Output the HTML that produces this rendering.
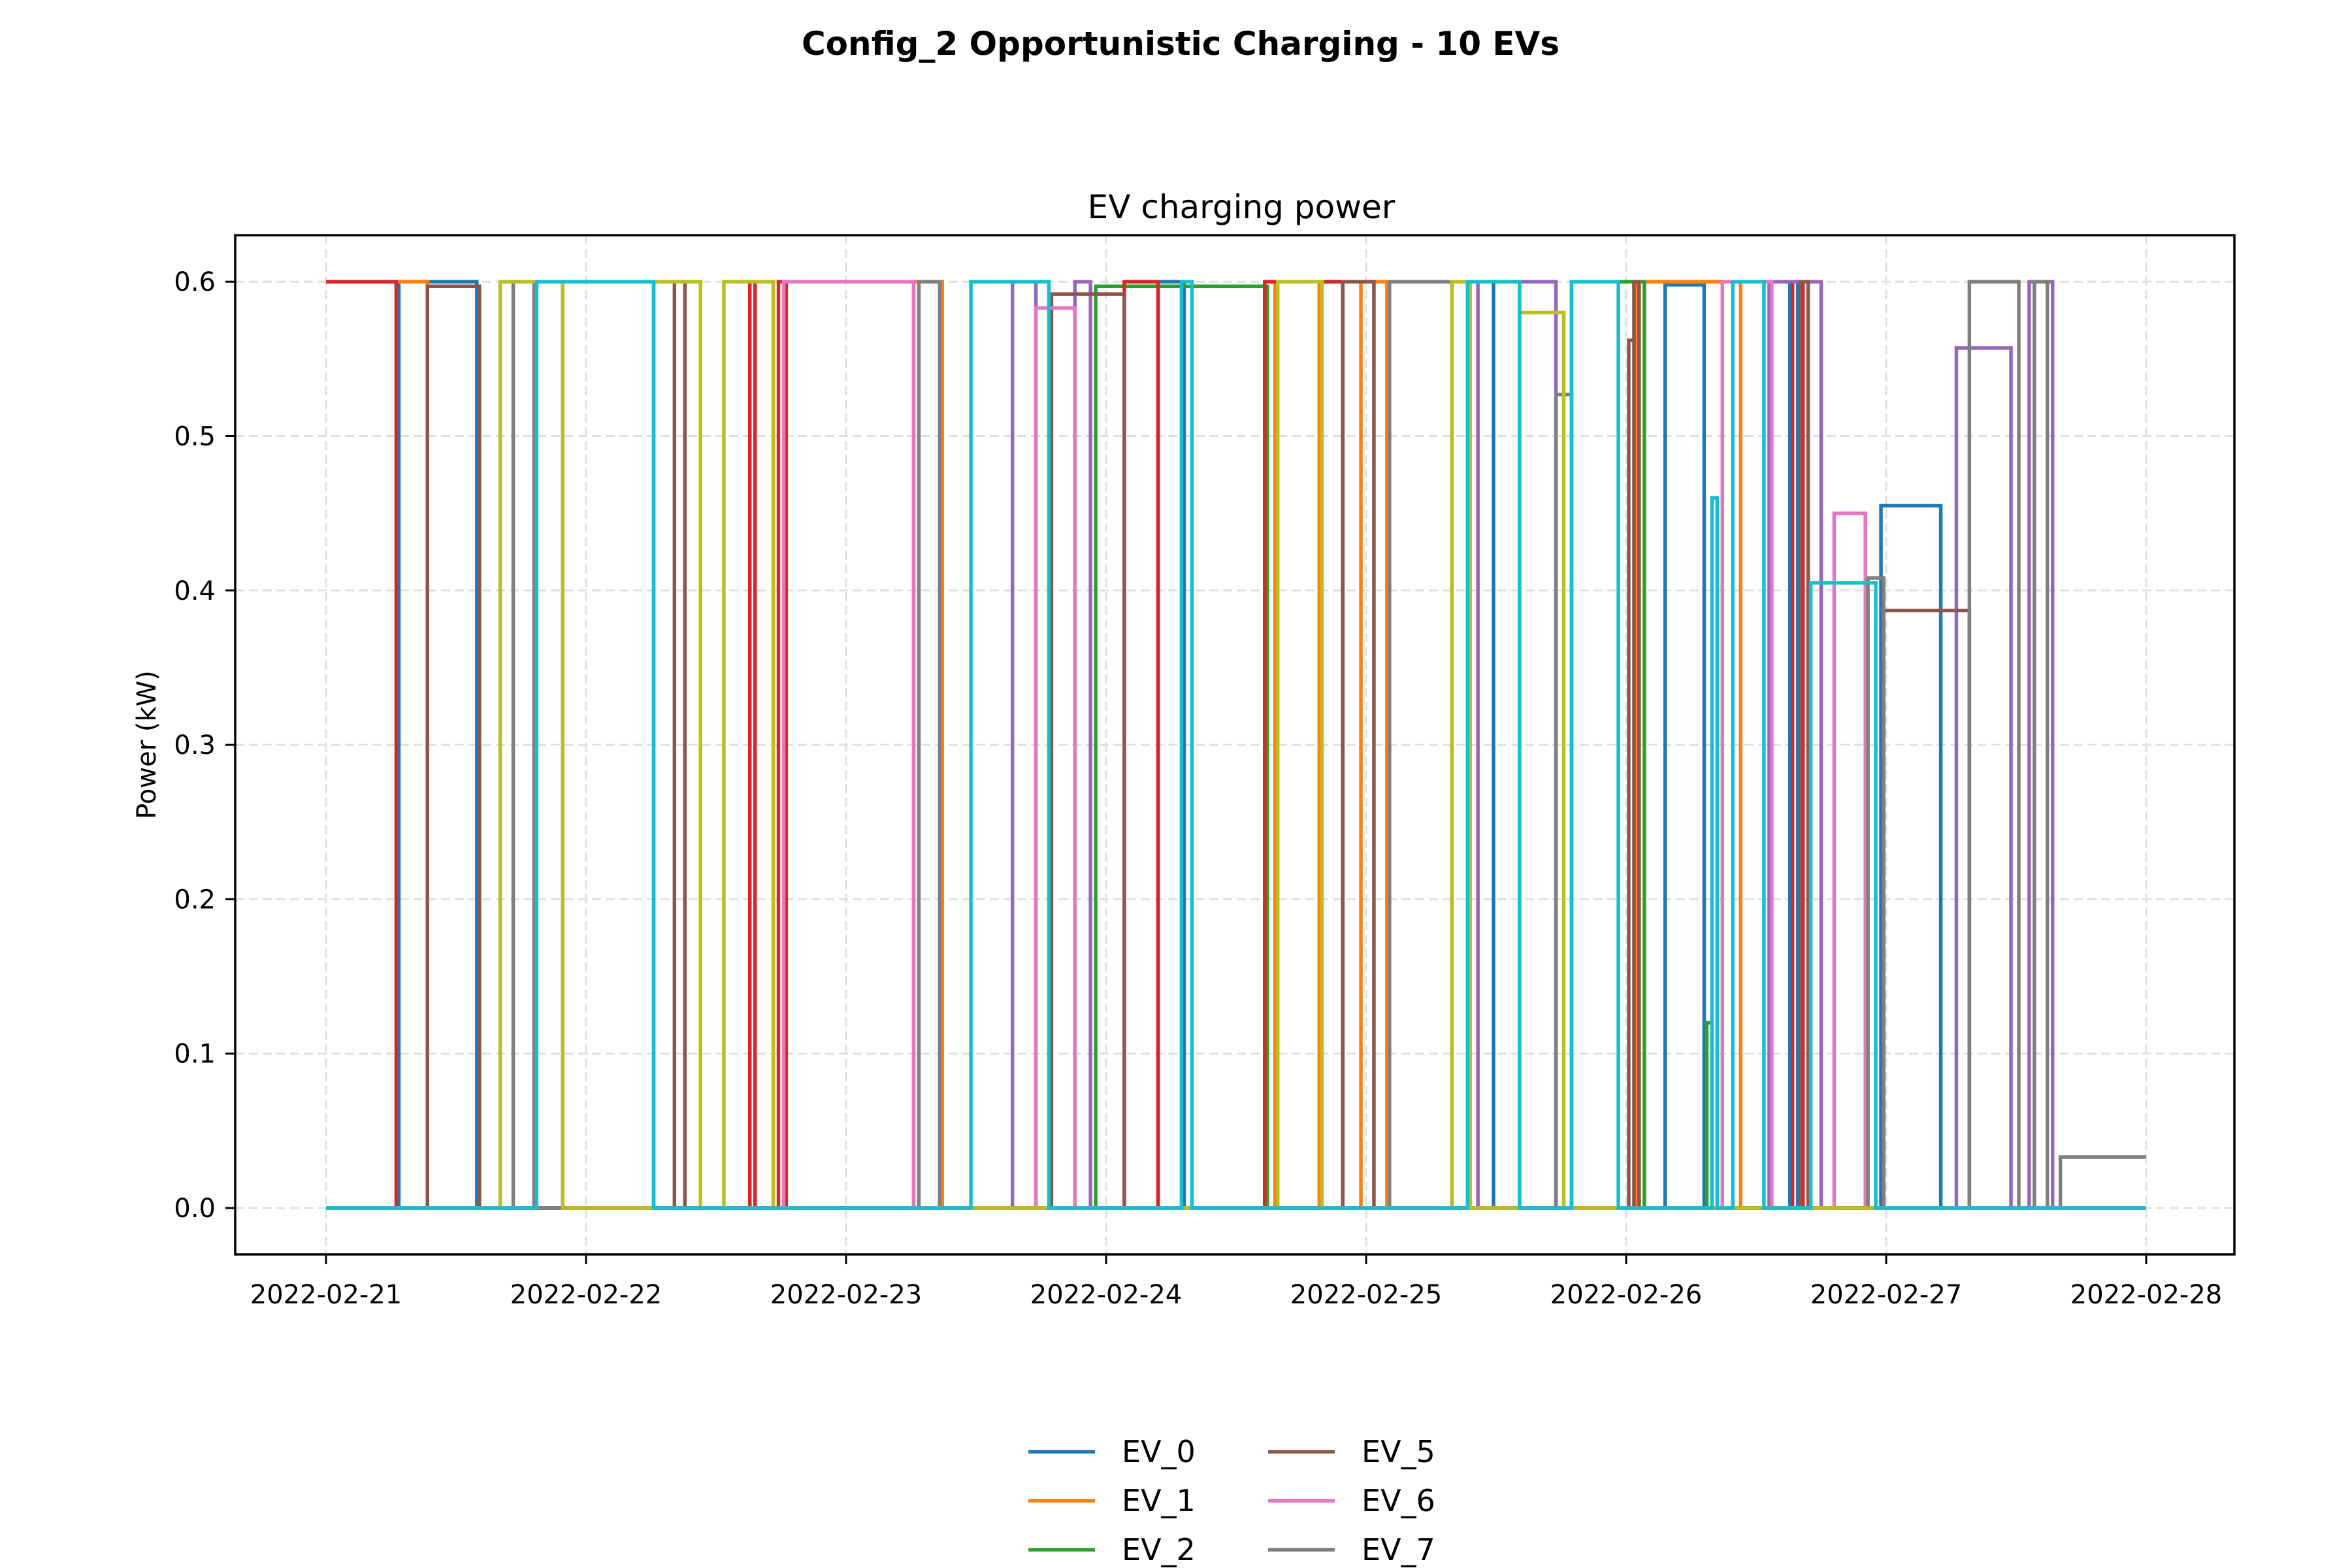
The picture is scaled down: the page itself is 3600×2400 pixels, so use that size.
<!DOCTYPE html>
<html><head><meta charset="utf-8"><style>
html,body{margin:0;padding:0;background:#fff;}
svg{display:block;font-family:"DejaVu Sans","Liberation Sans",sans-serif;}
</style></head><body>
<svg id="chart" width="3600" height="2400" viewBox="0 0 3600 2400">
<rect x="0" y="0" width="3600" height="2400" fill="#fff"/>
<text x="1807" y="84" text-anchor="middle" font-size="50" font-weight="bold">Config_2 Opportunistic Charging - 10 EVs</text>
<text x="1900" y="334" text-anchor="middle" font-size="50">EV charging power</text>
<text transform="translate(238,1140) rotate(-90)" text-anchor="middle" font-size="40">Power (kW)</text>
<g id="grid"></g>
<g id="series"></g>
<rect x="360" y="360" width="3060" height="1560" fill="none" stroke="#000" stroke-width="3.5"/>
<g id="ticks"></g>
<g id="legend"></g>
</svg>
<script>
const colors = ["#1f77b4","#ff7f0e","#2ca02c","#d62728","#9467bd","#8c564b","#e377c2","#7f7f7f","#bcbd22","#17becf"];
const seriesNames = ["EV_0","EV_1","EV_2","EV_3","EV_4","EV_5","EV_6","EV_7","EV_8","EV_9"];
const xTickLabels = ["2022-02-21","2022-02-22","2022-02-23","2022-02-24","2022-02-25","2022-02-26","2022-02-27","2022-02-28"];
const yTickValues = [0.0,0.1,0.2,0.3,0.4,0.5,0.6];
// intervals: [startDay, endDay, kW], days since 2022-02-21
const ev0 = [[0.28,0.58,0.6],[3.2,3.3,0.6],[4.49,4.59,0.6],[5.15,5.30,0.598],[5.63,5.66,0.6],[5.98,6.21,0.455]];
const ev1 = [[0.0,0.39,0.6],[2.26,2.37,0.6],[3.65,3.82,0.6],[3.98,4.08,0.6],[5.04,5.44,0.6]];
const ev2 = [[2.96,3.62,0.597],[4.79,5.07,0.6],[5.31,5.33,0.12]];
const ev3 = [[0.0,0.27,0.6],[1.63,1.65,0.6],[1.74,1.77,0.6],[3.07,3.2,0.6],[3.61,3.91,0.6],[5.64,5.68,0.6]];
const ev4 = [[2.64,2.73,0.6],[2.88,2.94,0.6],[4.43,4.73,0.6],[5.55,5.75,0.6],[6.27,6.48,0.557],[6.55,6.64,0.6]];
const ev5 = [[0.39,0.59,0.597],[1.34,1.38,0.6],[2.79,3.07,0.592],[3.91,4.03,0.6],[5.01,5.03,0.562],[5.03,5.05,0.6],[5.67,5.70,0.6],[5.99,6.32,0.387]];
const ev6 = [[1.76,2.26,0.6],[2.73,2.88,0.583],[5.37,5.56,0.6],[5.80,5.92,0.45]];
const ev7 = [[0.72,0.80,0.6],[2.28,2.36,0.6],[4.09,4.33,0.6],[4.73,4.79,0.527],[5.93,5.99,0.408],[6.32,6.51,0.6],[6.57,6.62,0.6],[6.67,7.0,0.033]];
const ev8 = [[0.67,0.91,0.6],[1.26,1.44,0.6],[1.53,1.72,0.6],[3.66,3.83,0.6],[4.33,4.40,0.6],[4.59,4.76,0.58]];
const ev9 = [[0.81,1.26,0.6],[2.48,2.78,0.6],[3.29,3.33,0.6],[4.39,4.59,0.6],[4.79,4.97,0.6],[5.33,5.35,0.46],[5.41,5.53,0.6],[5.71,5.96,0.405]];
const allSeries = [ev0,ev1,ev2,ev3,ev4,ev5,ev6,ev7,ev8,ev9];

const NS="http://www.w3.org/2000/svg";
const X0=499, DAY=398, Y0=1849, PER=2363;
const xs = d => X0 + d*DAY;
const ys = v => Y0 - v*PER;
function mk(tag, attrs, parent){const e=document.createElementNS(NS,tag);for(const k in attrs)e.setAttribute(k,attrs[k]);parent.appendChild(e);return e;}
const grid=document.getElementById('grid'), ticks=document.getElementById('ticks'), ser=document.getElementById('series'), leg=document.getElementById('legend');

xTickLabels.forEach((lab,i)=>{
  const x=xs(i);
  const g=mk('line',{x1:x,x2:x,y1:360,y2:1920,stroke:"#e0e0e0","stroke-width":3,"stroke-dasharray":"14,7"},grid);
  
  
  const t=mk('line',{x1:x,x2:x,y1:1920,y2:1935,stroke:"#000","stroke-width":3},ticks);
  
  
  const tx=mk('text',{x:x,y:1995,"text-anchor":"middle","font-size":40},ticks);
  tx.textContent=lab;
  
  
});
yTickValues.forEach(v=>{
  const y=ys(v);
  const g=mk('line',{x1:360,x2:3420,y1:y,y2:y,stroke:"#e0e0e0","stroke-width":3,"stroke-dasharray":"14,7"},grid);
  
  
  const t=mk('line',{x1:345,x2:360,y1:y,y2:y,stroke:"#000","stroke-width":3},ticks);
  
  
  const tx=mk('text',{x:330,y:y+14,"text-anchor":"end","font-size":40},ticks);
  tx.textContent=v.toFixed(1);
  
  
});

allSeries.forEach((iv,i)=>{
  let d="M"+xs(0)+","+ys(0);
  let atZero=true;
  iv.forEach(([s,e,v],k)=>{
    if(s<=0 && k===0){ d="M"+xs(0)+","+ys(v); }
    else { d+=" L"+xs(s)+","+ys(0)+" L"+xs(s)+","+ys(v); }
    d+=" L"+xs(e)+","+ys(v);
    if(e<7){ d+=" L"+xs(e)+","+ys(0); atZero=true; } else { atZero=false; }
  });
  if(atZero) d+=" L"+xs(7)+","+ys(0);
  const p=mk('path',{d:d,fill:"none",stroke:colors[i],"stroke-width":5.5,"stroke-linejoin":"miter"},ser);
  
  
});

seriesNames.forEach((n,i)=>{
  const col=Math.floor(i/5), row=i%5;
  const lx = col===0?1574:1941, ly=2222+row*75;
  if(ly>2420) return;
  const l=mk('line',{x1:lx,x2:lx+102,y1:ly,y2:ly,stroke:colors[i],"stroke-width":5.5},leg);
  
  
  const t=mk('text',{x:lx+143,y:ly+16,"font-size":46},leg);
  t.textContent=n;
  
  
});
</script>
</body></html>
